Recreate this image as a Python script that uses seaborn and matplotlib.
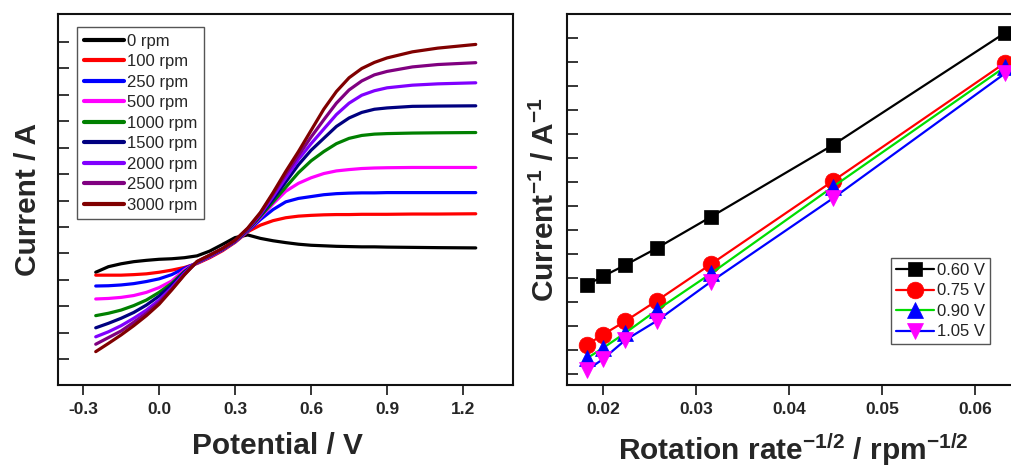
import numpy as np
import pandas as pd
import matplotlib
matplotlib.use("Agg")
import matplotlib.pyplot as plt
import seaborn as sns

# ---------------- data: linear sweep voltammetry at several rotation rates ----------------
potential = [-0.25, -0.2, -0.15, -0.1, -0.05, 0.0, 0.05, 0.1, 0.15, 0.2, 0.25, 0.3, 0.35,
             0.4, 0.45, 0.5, 0.55, 0.6, 0.65, 0.7, 0.75, 0.8, 0.85, 0.9, 1.0, 1.1, 1.25]

rpm_labels = ["0 rpm", "100 rpm", "250 rpm", "500 rpm", "1000 rpm",
              "1500 rpm", "2000 rpm", "2500 rpm", "3000 rpm"]

# current in arbitrary units (one unit per y tick)
i_0 = [3.29, 3.50, 3.61, 3.69, 3.74, 3.78, 3.80, 3.84, 3.91, 4.09, 4.34, 4.60, 4.70,
       4.57, 4.48, 4.41, 4.35, 4.31, 4.29, 4.27, 4.26, 4.25, 4.25, 4.24, 4.23, 4.22, 4.21]
i_100 = [3.18, 3.18, 3.18, 3.20, 3.23, 3.29, 3.37, 3.47, 3.62, 3.84, 4.10, 4.42, 4.82,
         5.07, 5.24, 5.35, 5.41, 5.44, 5.46, 5.47, 5.47, 5.48, 5.48, 5.48, 5.49, 5.49, 5.50]
i_250 = [2.77, 2.78, 2.81, 2.86, 2.94, 3.04, 3.20, 3.44, 3.64, 3.87, 4.13, 4.44, 4.84,
         5.28, 5.66, 5.95, 6.08, 6.15, 6.22, 6.26, 6.28, 6.29, 6.29, 6.30, 6.30, 6.30, 6.30]
i_500 = [2.28, 2.30, 2.34, 2.41, 2.53, 2.71, 2.96, 3.38, 3.65, 3.88, 4.14, 4.45, 4.86,
         5.36, 5.88, 6.35, 6.65, 6.86, 7.02, 7.12, 7.17, 7.21, 7.23, 7.24, 7.25, 7.25, 7.25]
i_1000 = [1.65, 1.74, 1.86, 2.03, 2.24, 2.53, 2.87, 3.32, 3.66, 3.90, 4.15, 4.46, 4.88,
          5.40, 5.95, 6.50, 7.05, 7.50, 7.85, 8.15, 8.35, 8.46, 8.51, 8.53, 8.55, 8.56, 8.57]
i_1500 = [1.19, 1.36, 1.55, 1.77, 2.05, 2.39, 2.81, 3.29, 3.67, 3.91, 4.16, 4.47, 4.90,
          5.45, 6.05, 6.70, 7.35, 7.90, 8.35, 8.80, 9.12, 9.33, 9.45, 9.50, 9.56, 9.57, 9.58]
i_2000 = [0.85, 1.04, 1.27, 1.55, 1.86, 2.24, 2.71, 3.25, 3.68, 3.92, 4.17, 4.48, 4.92,
          5.48, 6.15, 6.85, 7.55, 8.15, 8.70, 9.25, 9.68, 9.98, 10.15, 10.26, 10.36, 10.41, 10.45]
i_2500 = [0.57, 0.82, 1.07, 1.40, 1.74, 2.15, 2.65, 3.21, 3.69, 3.93, 4.18, 4.49, 4.94,
          5.52, 6.25, 7.00, 7.70, 8.40, 9.05, 9.68, 10.18, 10.52, 10.75, 10.88, 11.05, 11.14, 11.21]
i_3000 = [0.29, 0.60, 0.92, 1.27, 1.65, 2.08, 2.62, 3.19, 3.70, 3.94, 4.19, 4.50, 4.96,
          5.55, 6.30, 7.10, 7.85, 8.65, 9.45, 10.12, 10.64, 10.99, 11.22, 11.39, 11.62, 11.76, 11.90]

lsv_colors = ["#000000", "#ff0000", "#0000ff", "#ff00ff", "#008000",
              "#000080", "#8000ff", "#800080", "#800000"]

lsv_xticks = [-0.3, 0.0, 0.3, 0.6, 0.9, 1.2]
lsv_xticklabels = ["-0.3", "0.0", "0.3", "0.6", "0.9", "1.2"]

# ---------------- data: Koutecky-Levich plot ----------------
rotation_rpm = [3000, 2500, 2000, 1500, 1000, 500, 250]
kl_labels = ["0.60 V", "0.75 V", "0.90 V", "1.05 V"]
# inverse current, arbitrary units (one unit per y tick)
inv_060 = [3.71, 4.07, 4.53, 5.25, 6.55, 9.54, 14.22]
inv_075 = [1.21, 1.64, 2.19, 3.06, 4.58, 8.04, 12.97]
inv_090 = [0.65, 1.08, 1.70, 2.67, 4.19, 7.80, 12.80]
inv_105 = [0.15, 0.62, 1.40, 2.22, 3.85, 7.32, 12.53]

kl_line_colors = ["#000000", "#ff0000", "#00dd00", "#0000ff"]
kl_marker_colors = ["#000000", "#ff0000", "#0000ff", "#ff00ff"]
kl_markers = ["s", "o", "^", "v"]
kl_marker_sizes = [10.5, 12, 11.5, 11.5]

kl_xticks = [0.02, 0.03, 0.04, 0.05, 0.06]
kl_xticklabels = ["0.02", "0.03", "0.04", "0.05", "0.06"]

# ---------------- style ----------------
sns.set_style("white")
plt.rcParams["font.family"] = ["Liberation Sans", "DejaVu Sans"]
plt.rcParams["mathtext.fontset"] = "custom"
plt.rcParams["mathtext.rm"] = "Liberation Sans"
plt.rcParams["mathtext.bf"] = "Liberation Sans:bold"
plt.rcParams["mathtext.it"] = "Liberation Sans:italic"
plt.rcParams["axes.linewidth"] = 1.5
plt.rcParams["axes.edgecolor"] = "#111111"

fig = plt.figure(figsize=(10.12, 4.68), dpi=100)
ax1 = fig.add_axes([0.0573, 0.1774, 0.4496, 0.7927])
ax2 = fig.add_axes([0.5603, 0.1774, 0.4506, 0.7927])

label_kw = dict(fontsize=21.5, fontweight="bold")
tick_kw = dict(fontsize=12.5, fontweight="bold")

# ---------------- left panel ----------------
lsv_series = [i_0, i_100, i_250, i_500, i_1000, i_1500, i_2000, i_2500, i_3000]
lsv_df = pd.concat(
    [pd.DataFrame({"E": potential, "I": vals, "rate": lab})
     for lab, vals in zip(rpm_labels, lsv_series)],
    ignore_index=True,
)
sns.lineplot(data=lsv_df, x="E", y="I", hue="rate", hue_order=rpm_labels,
             palette=lsv_colors, linewidth=2.3, legend=False, ax=ax1, sort=False)

ax1.set_xlim(-0.399, 1.397)
ax1.set_ylim(-0.97, 13.05)
ax1.set_yticks(np.arange(0, 13))
ax1.set_xticks(lsv_xticks)
ax1.set_xticklabels(lsv_xticklabels, **tick_kw)
ax1.tick_params(axis="y", direction="in", length=8, width=1.3, labelleft=False, left=True)
ax1.tick_params(axis="x", direction="out", length=7, width=1.3, pad=5, bottom=True)
ax1.set_xlabel("Potential / V", **label_kw)
ax1.set_ylabel("Current / A", **label_kw)
ax1.xaxis.set_label_coords(0.482, -0.128)
ax1.yaxis.set_label_coords(-0.035, 0.5)

leg1 = ax1.legend(ax1.lines, rpm_labels, loc="upper left",
                  bbox_to_anchor=(0.0418, 0.965), borderaxespad=0,
                  fontsize=12, handlelength=2.4, handletextpad=0.2,
                  labelspacing=0.33, borderpad=0.4, fancybox=False,
                  framealpha=1, edgecolor="#555555")
leg1.get_frame().set_linewidth(1.0)
for ln in leg1.get_lines():
    ln.set_linewidth(3)

# ---------------- right panel ----------------
inv_rate = [r ** -0.5 for r in rotation_rpm]
kl_series = [inv_060, inv_075, inv_090, inv_105]
handles = []
for lab, vals, lc, mc, mk, ms in zip(kl_labels, kl_series, kl_line_colors,
                                     kl_marker_colors, kl_markers, kl_marker_sizes):
    sns.lineplot(x=inv_rate, y=vals, color=lc, linewidth=1.6, marker=mk,
                 markersize=ms, markerfacecolor=mc, markeredgecolor=mc,
                 markeredgewidth=0.5, ax=ax2, legend=False, sort=False)
    handles.append(ax2.lines[-1])

ax2.set_xlim(0.01613, 0.06516)
ax2.set_ylim(-0.46, 15.0)
ax2.set_yticks(np.arange(0, 15))
ax2.set_xticks(kl_xticks)
ax2.set_xticklabels(kl_xticklabels, **tick_kw)
ax2.tick_params(axis="y", direction="in", length=8, width=1.3, labelleft=False, left=True)
ax2.tick_params(axis="x", direction="out", length=7, width=1.3, pad=5, bottom=True)
ax2.set_xlabel("Rotation rate$^{\\mathbf{-1/2}}$ / rpm$^{\\mathbf{-1/2}}$", **label_kw)
ax2.set_ylabel("Current$^{\\mathbf{-1}}$ / A$^{\\mathbf{-1}}$", **label_kw)
ax2.xaxis.set_label_coords(0.497, -0.126)
ax2.yaxis.set_label_coords(-0.015, 0.5)

leg2 = ax2.legend(handles, kl_labels, loc="upper left",
                  bbox_to_anchor=(0.7105, 0.3423), borderaxespad=0,
                  fontsize=12, handlelength=2.3, handletextpad=0.15,
                  labelspacing=0.33, borderpad=0.3, fancybox=False,
                  framealpha=1, edgecolor="#555555", numpoints=1)
leg2.get_frame().set_linewidth(1.0)
for t in leg2.get_texts():
    t.set_color("#222222")

fig.savefig("out.png", dpi=100)
